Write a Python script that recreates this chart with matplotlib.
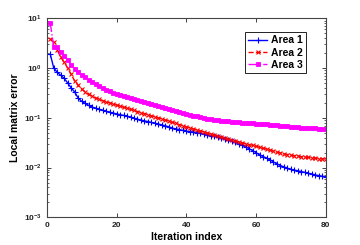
import matplotlib
matplotlib.use("Agg")
import matplotlib.pyplot as plt
from matplotlib.ticker import FixedLocator, LogLocator, FuncFormatter, NullFormatter
import numpy as np

plt.rcParams.update({
    "font.family": ["Liberation Sans", "DejaVu Sans"],
    "font.size": 6,
    "axes.edgecolor": "#444444",
    "mathtext.fontset": "custom",
    "mathtext.rm": "Liberation Sans",
    "mathtext.bf": "Liberation Sans:bold",
    "mathtext.default": "bf",
})

iterations = list(range(1, 81))

area1 = [1.9, 1.0, 0.82, 0.72, 0.62, 0.50, 0.40, 0.33, 0.25, 0.215,
         0.195, 0.178, 0.165, 0.155, 0.148, 0.141, 0.135, 0.130, 0.125, 0.120,
         0.116, 0.112, 0.108, 0.104, 0.098, 0.094, 0.090, 0.087, 0.084, 0.081,
         0.078, 0.075, 0.072, 0.069, 0.066, 0.062, 0.060, 0.058, 0.056, 0.054,
         0.053, 0.052, 0.050, 0.049, 0.047, 0.046, 0.044, 0.043, 0.041, 0.040,
         0.038, 0.036, 0.034, 0.032, 0.030, 0.028, 0.026, 0.024, 0.022, 0.020,
         0.018, 0.0167, 0.0155, 0.0143, 0.0130, 0.0118, 0.0110, 0.0103, 0.0097, 0.0092,
         0.0089, 0.0086, 0.0083, 0.0080, 0.0077, 0.0074, 0.0071, 0.0069, 0.0067, 0.0065]

area2 = [3.85, 3.3, 2.3, 1.65, 1.3, 1.0, 0.75, 0.55, 0.45, 0.38,
         0.33, 0.295, 0.27, 0.25, 0.235, 0.222, 0.21, 0.20, 0.19, 0.18,
         0.172, 0.164, 0.156, 0.148, 0.141, 0.134, 0.128, 0.122, 0.116, 0.110,
         0.105, 0.100, 0.095, 0.090, 0.086, 0.081, 0.077, 0.073, 0.070, 0.066,
         0.063, 0.060, 0.057, 0.054, 0.052, 0.049, 0.047, 0.045, 0.043, 0.041,
         0.039, 0.037, 0.0355, 0.034, 0.033, 0.0315, 0.030, 0.029, 0.028, 0.027,
         0.0255, 0.0245, 0.0235, 0.0225, 0.0215, 0.0205, 0.0197, 0.0190, 0.0183, 0.0178,
         0.0174, 0.0170, 0.0166, 0.0163, 0.0160, 0.0157, 0.0155, 0.0152, 0.0150, 0.0148]

area3 = [8.0, 2.6, 2.6, 2.15, 1.78, 1.45, 1.15, 0.95, 0.82, 0.74,
         0.67, 0.59, 0.53, 0.47, 0.43, 0.40, 0.37, 0.34, 0.32, 0.30,
         0.285, 0.27, 0.257, 0.245, 0.234, 0.224, 0.214, 0.205, 0.196, 0.187,
         0.179, 0.171, 0.164, 0.157, 0.150, 0.143, 0.137, 0.131, 0.125, 0.120,
         0.115, 0.111, 0.107, 0.103, 0.099, 0.096, 0.093, 0.091, 0.089, 0.087,
         0.0855, 0.0845, 0.0835, 0.0825, 0.0815, 0.0805, 0.0795, 0.0785, 0.0775, 0.0765,
         0.0755, 0.0745, 0.0735, 0.0725, 0.0715, 0.0705, 0.0695, 0.0685, 0.0675, 0.0665,
         0.0655, 0.0647, 0.0639, 0.0631, 0.0624, 0.0617, 0.0611, 0.0605, 0.0600, 0.0595]

labels = ["Area 1", "Area 2", "Area 3"]

fig = plt.figure(figsize=(3.6, 2.45), dpi=100)
ax = fig.add_axes([0.130, 0.113, 0.775, 0.812])

ax.plot(iterations, area1, color="#0000ff", linestyle="-", linewidth=1.0,
        marker="+", markersize=4, markeredgewidth=0.8, label=labels[0])
ax.plot(iterations, area2, color="#ff0000", linestyle="--", linewidth=1.0,
        marker="x", markersize=3, markeredgewidth=0.8, label=labels[1])
ax.plot(iterations, area3, color="#ff00ff", linestyle="-.", linewidth=1.0,
        marker="s", markersize=2.6, markeredgewidth=0.6, label=labels[2])

ax.set_yscale("log")
ax.set_xlim(0, 80)
ax.set_ylim(1e-3, 1e1)
ax.xaxis.set_major_locator(FixedLocator([0, 20, 40, 60, 80]))
ax.yaxis.set_major_locator(LogLocator(base=10, numticks=10))
ax.yaxis.set_minor_locator(LogLocator(base=10, subs=np.arange(2, 10), numticks=10))
ax.yaxis.set_minor_formatter(NullFormatter())
ax.yaxis.set_major_formatter(FuncFormatter(
    lambda v, p: r"$\mathbf{10^{%d}}$" % int(round(np.log10(v)))))
ax.xaxis.set_major_formatter(FuncFormatter(lambda v, p: "%d" % v))

ax.tick_params(which="both", direction="in", top=True, right=True,
               colors="#222222", labelsize=6)
ax.tick_params(which="major", length=3, width=0.6)
ax.tick_params(which="minor", length=1.6, width=0.5)
for lbl in ax.get_xticklabels():
    lbl.set_fontweight("bold")
for sp in ax.spines.values():
    sp.set_linewidth(0.8)

ax.set_xlabel("Iteration index", fontsize=7.5, fontweight="bold", labelpad=2)
ax.set_ylabel("Local matrix error", fontsize=7.5, fontweight="bold", labelpad=3)

leg = ax.legend(loc="upper right", bbox_to_anchor=(0.929, 0.93),
                prop={"family": "Liberation Sans", "weight": "bold", "size": 7.5},
                fancybox=False, edgecolor="#222222", framealpha=1,
                handlelength=1.9, handletextpad=0.35, borderpad=0.3,
                labelspacing=0.2, borderaxespad=0)
leg.get_frame().set_linewidth(0.7)

fig.savefig("out.png", dpi=100)
